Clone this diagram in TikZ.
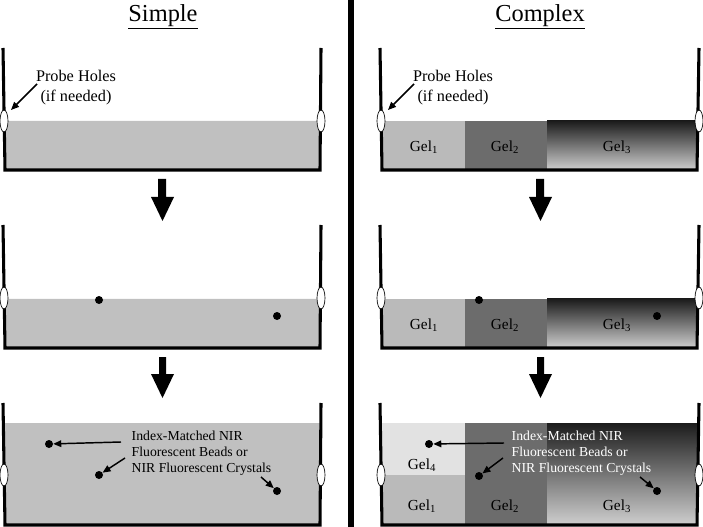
\documentclass[tikz,border=0pt]{standalone}
\usepackage{fontspec}
\setmainfont{Liberation Serif}
\usetikzlibrary{arrows.meta,shapes.geometric}
\definecolor{gelS}{HTML}{C0C0C0}
\definecolor{gelA}{HTML}{BABABA}
\definecolor{gelB}{HTML}{6C6C6C}
\definecolor{gelD}{HTML}{E2E2E2}
\definecolor{gelTop}{HTML}{1C1C1C}
\definecolor{gelBot}{HTML}{CFCFCF}
\begin{document}
\begin{tikzpicture}[x=0.75pt,y=-0.75pt,
  wall/.style={line width=2.3pt,line join=miter},
  hole/.style={ellipse,draw,fill=white,line width=0.5pt,inner sep=0pt,minimum width=6pt,minimum height=16.5pt},
  bead/.style={circle,fill=black,inner sep=0pt,minimum size=6pt},
  sarrow/.style={line width=1.1pt,-{Triangle[length=6pt,width=5pt]}},
  title/.style={font=\fontsize{18.3}{22}\selectfont},
  probe/.style={font=\fontsize{12.2}{15}\selectfont,align=center},
  gellab/.style={font=\fontsize{11.5}{14}\selectfont},
  note/.style={font=\fontsize{10.3}{12}\selectfont,align=left,anchor=west},
  bigarrow/.style={fill=black}]
\useasboundingbox (0,0) rectangle (703,527);

% separator
\draw[line width=4.5pt] (351,0) -- (351,527);

% titles
\node[title] (tS) at (163,17) {\underline{Simple}};
\node[title] (tC) at (540,17) {\underline{Complex}};

% ===== Simple panel 1 =====
\fill[gelS] (3.5,121) -- (320.5,121) -- (320,170) -- (5,170) -- cycle;
\draw[wall] (3,48) -- (5,170) -- (320,170) -- (321,48);
\node[hole] (hL1) at (4,121) {};
\node[hole] (hR1) at (321,121) {};
\node[probe] (pS) at (76,88) {Probe Holes\\(if needed)};
\coordinate (pSa) at (37,84);
\coordinate (pSt) at (11,110);
\draw[sarrow] (pSa) -- (pSt);

% ===== Complex panel 1 =====
\fill[gelA] (380.5,121) rectangle (465,170);
\fill[gelB] (465,121) rectangle (547,170);
\shade[top color=gelTop,bottom color=gelBot] (547,121) rectangle (698,170);
\draw[wall] (380,48) -- (382,170) -- (697,170) -- (699,48);
\node[hole] (hL2) at (381,121) {};
\node[hole] (hR2) at (699,121) {};
\node[probe] (pC) at (453,88) {Probe Holes\\(if needed)};
\coordinate (pCa) at (414,84);
\coordinate (pCt) at (388,110);
\draw[sarrow] (pCa) -- (pCt);
\node[gellab] (g11) at (424,147) {Gel\textsubscript{1}};
\node[gellab] (g12) at (505,147) {Gel\textsubscript{2}};
\node[gellab] (g13) at (617,147) {Gel\textsubscript{3}};

% big arrows row 1
\fill[bigarrow] (158,179) -- (166,179) -- (166,197) -- (174,197) -- (162.5,221) -- (151,197) -- (158,197) -- cycle;
\fill[bigarrow] (536,179) -- (544,179) -- (544,197) -- (552,197) -- (540.5,221) -- (529,197) -- (536,197) -- cycle;

% ===== Simple panel 2 =====
\fill[gelS] (3.5,299) -- (320.5,299) -- (320,348) -- (5,348) -- cycle;
\draw[wall] (3,225) -- (5,348) -- (320,348) -- (321,225);
\node[hole] (hL3) at (4,298) {};
\node[hole] (hR3) at (321,298) {};
\node[bead] (b1) at (99,300) {};
\node[bead] (b2) at (277,316) {};

% ===== Complex panel 2 =====
\fill[gelA] (380.5,299) rectangle (465,348);
\fill[gelB] (465,299) rectangle (547,348);
\shade[top color=gelTop,bottom color=gelBot] (547,299) rectangle (698,348);
\draw[wall] (380,225) -- (382,348) -- (697,348) -- (699,225);
\node[hole] (hL4) at (381,298) {};
\node[hole] (hR4) at (699,298) {};
\node[gellab] (g21) at (424,325) {Gel\textsubscript{1}};
\node[gellab] (g22) at (505,325) {Gel\textsubscript{2}};
\node[gellab] (g23) at (617,325) {Gel\textsubscript{3}};
\node[bead] (b3) at (479,300) {};
\node[bead] (b4) at (657,316) {};

% big arrows row 2
\fill[bigarrow] (159,357) -- (166,357) -- (166,374) -- (174,374) -- (162.5,398) -- (151,374) -- (159,374) -- cycle;
\fill[bigarrow] (537,357) -- (544,357) -- (544,374) -- (552,374) -- (540.5,398) -- (529,374) -- (537,374) -- cycle;

% ===== Simple panel 3 =====
\fill[gelS] (3.5,423) -- (320.5,423) -- (320,525) -- (5,525) -- cycle;
\draw[wall] (3,403) -- (5,525) -- (320,525) -- (321,403);
\node[hole] (hL5) at (4,475) {};
\node[hole] (hR5) at (321,475) {};
\node[bead] (b5) at (49,444) {};
\node[bead] (b6) at (99,475) {};
\node[bead] (b7) at (277,491) {};
\node[note] (nS) at (127,453) {Index-Matched NIR\\Fluorescent Beads or\\NIR Fluorescent Crystals};
\coordinate (nS1) at (121,442);
\coordinate (nS2) at (125,458);
\coordinate (nS3) at (261,477);
\draw[sarrow] (nS1) -- (b5);
\draw[sarrow] (nS2) -- (b6);
\draw[sarrow] (nS3) -- (b7);

% ===== Complex panel 3 =====
\fill[gelD] (380.5,423) rectangle (465,475);
\fill[gelA] (380.5,475) rectangle (465,525);
\fill[gelB] (465,423) rectangle (547,525);
\shade[top color=gelTop,bottom color=gelBot] (547,423) rectangle (698,525);
\draw[wall] (380,403) -- (382,525) -- (697,525) -- (699,403);
\node[hole] (hL6) at (381,475) {};
\node[hole] (hR6) at (699,475) {};
\node[gellab] (g34) at (422,465) {Gel\textsubscript{4}};
\node[gellab] (g31) at (422,506) {Gel\textsubscript{1}};
\node[gellab] (g32) at (505,506) {Gel\textsubscript{2}};
\node[gellab] (g33) at (617,506) {Gel\textsubscript{3}};
\node[bead] (b8) at (429,444) {};
\node[bead] (b9) at (479,476) {};
\node[bead] (b10) at (657,491) {};
\node[note,text=white] (nC) at (507,453) {Index-Matched NIR\\Fluorescent Beads or\\NIR Fluorescent Crystals};
\coordinate (nC1) at (504,443);
\coordinate (nC2) at (503,458);
\coordinate (nC3) at (640,477);
\draw[sarrow] (nC1) -- (b8);
\draw[sarrow] (nC2) -- (b9);
\draw[sarrow] (nC3) -- (b10);
\end{tikzpicture}
\end{document}
